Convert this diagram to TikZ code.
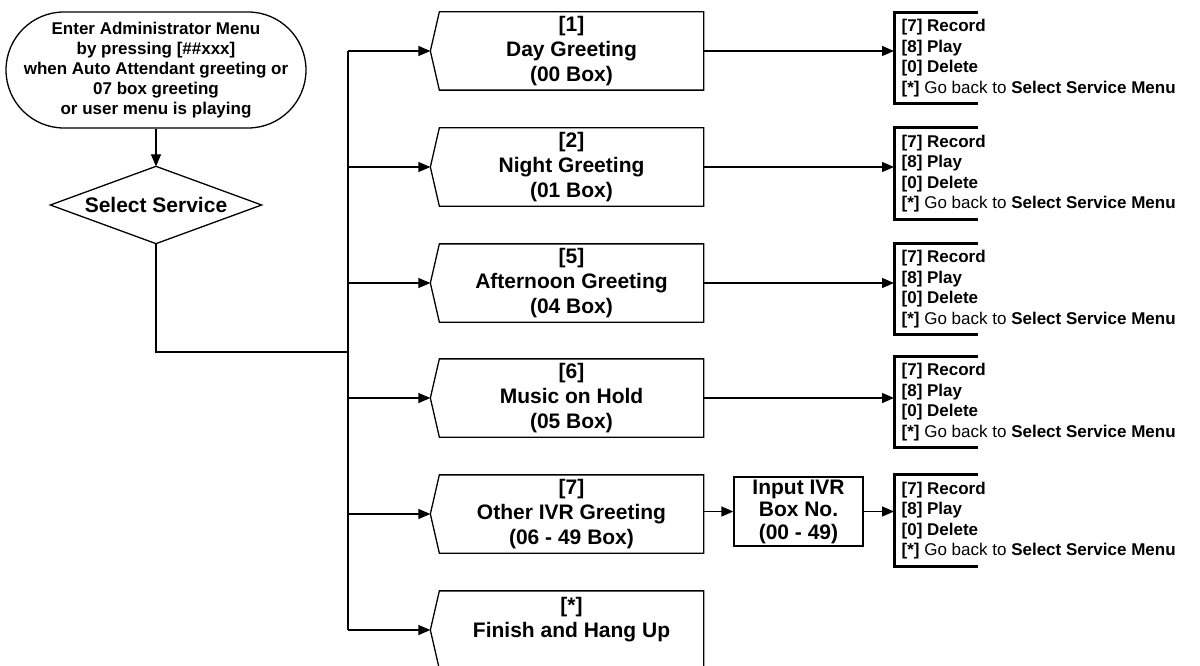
\documentclass[tikz,border=0pt]{standalone}
\usepackage{fontspec}
\setmainfont{Liberation Sans}
\usetikzlibrary{arrows.meta,shapes.geometric,calc}
\begin{document}
\begin{tikzpicture}[x=1pt,y=-1pt,
  line width=1.3pt,
  arr/.style={-{Triangle[length=12pt,width=10pt]}},
  gbox/.style={minimum width=263pt, minimum height=77pt, inner sep=0pt, align=center, font=\fontsize{21}{25}\selectfont\bfseries},
  startnode/.style={draw, rounded corners=58pt, minimum width=300pt, minimum height=116pt, align=center, inner sep=0pt, font=\fontsize{17}{20}\selectfont\bfseries},
  dia/.style={minimum width=210pt, minimum height=76pt, inner sep=0pt, font=\fontsize{21}{25}\selectfont\bfseries},
  ibox/.style={draw, minimum width=129pt, minimum height=69pt, inner sep=0pt, align=center, font=\fontsize{21}{22.5}\selectfont\bfseries},
  lst/.style={anchor=west, minimum height=90pt, inner xsep=7pt, inner ysep=0pt, align=left, font=\fontsize{17}{20.5}\selectfont\bfseries},
  bracket/.style={line width=3pt}
]
\useasboundingbox (0,0) rectangle (1200,666);
\clip (0,0) rectangle (1200,666);
\fill[white] (0,0) rectangle (1200,666);

% start and decision
\node[startnode] (s) at (156,70) {Enter Administrator Menu\\by pressing [\#\#xxx]\\when Auto Attendant greeting or\\07 box greeting\\or user menu is playing};
\node[dia] (d) at (156,205) {Select Service};
\draw (d.north) -- (d.east) -- (d.south) -- (d.west) -- cycle;
\draw[arr] (s.south) -- (d.north);

% greeting boxes
\node[gbox] (b1) at (571.5,51) {[1]\\Day Greeting\\(00 Box)};
\node[gbox] (b2) at (571.5,167) {[2]\\Night Greeting\\(01 Box)};
\node[gbox] (b3) at (571.5,283) {[5]\\Afternoon Greeting\\(04 Box)};
\node[gbox] (b4) at (571.5,398) {[6]\\Music on Hold\\(05 Box)};
\node[gbox] (b5) at (571.5,514) {[7]\\Other IVR Greeting\\(06 - 49 Box)};
\node[gbox] (b6) at (571.5,630) {[*]\\Finish and Hang Up\\\phantom{X}};
\foreach \n in {b1,b2,b3,b4,b5,b6} {
  \draw (\n.north west) -- ([xshift=-9pt]\n.west) -- (\n.south west) -- (\n.south east) -- (\n.north east) -- cycle;
  \coordinate (\n tip) at ([xshift=-9pt]\n.west);
}

% bus
\coordinate (bus) at (348,352);
\draw (bus |- b1tip) -- (bus |- b6tip);
\draw (d.south) |- (bus);
\foreach \n in {b1,b2,b3,b4,b5,b6} {
  \draw[arr] (bus |- \n tip) -- (\n tip);
}

% input box
\node[ibox] (inp) at (798.5,511.5) {Input IVR\\Box No.\\(00 - 49)};

% option lists
\newcommand{\optlist}{[7] Record\\{}[8] Play\\{}[0] Delete\\{}[*] {\mdseries Go back to} Select Service Menu}
\node[lst] (l1) at (894,58) {\optlist};
\node[lst] (l2) at (894,173.5) {\optlist};
\node[lst] (l3) at (894,289) {\optlist};
\node[lst] (l4) at (894,402) {\optlist};
\node[lst] (l5) at (894,520.5) {\optlist};
\foreach \n in {l1,l2,l3,l4,l5} {
  \draw[bracket] ([xshift=84pt]\n.north west) -- (\n.north west) -- (\n.south west) -- ([xshift=84pt]\n.south west);
}

\draw[arr] (b1.east) -- (b1.east -| l1.west);
\draw[arr] (b2.east) -- (b2.east -| l2.west);
\draw[arr] (b3.east) -- (b3.east -| l3.west);
\draw[arr] (b4.east) -- (b4.east -| l4.west);
\draw[arr] (inp.west -| b5.east) -- (inp.west);
\draw[arr] (inp.east) -- (inp.east -| l5.west);
\end{tikzpicture}
\end{document}
